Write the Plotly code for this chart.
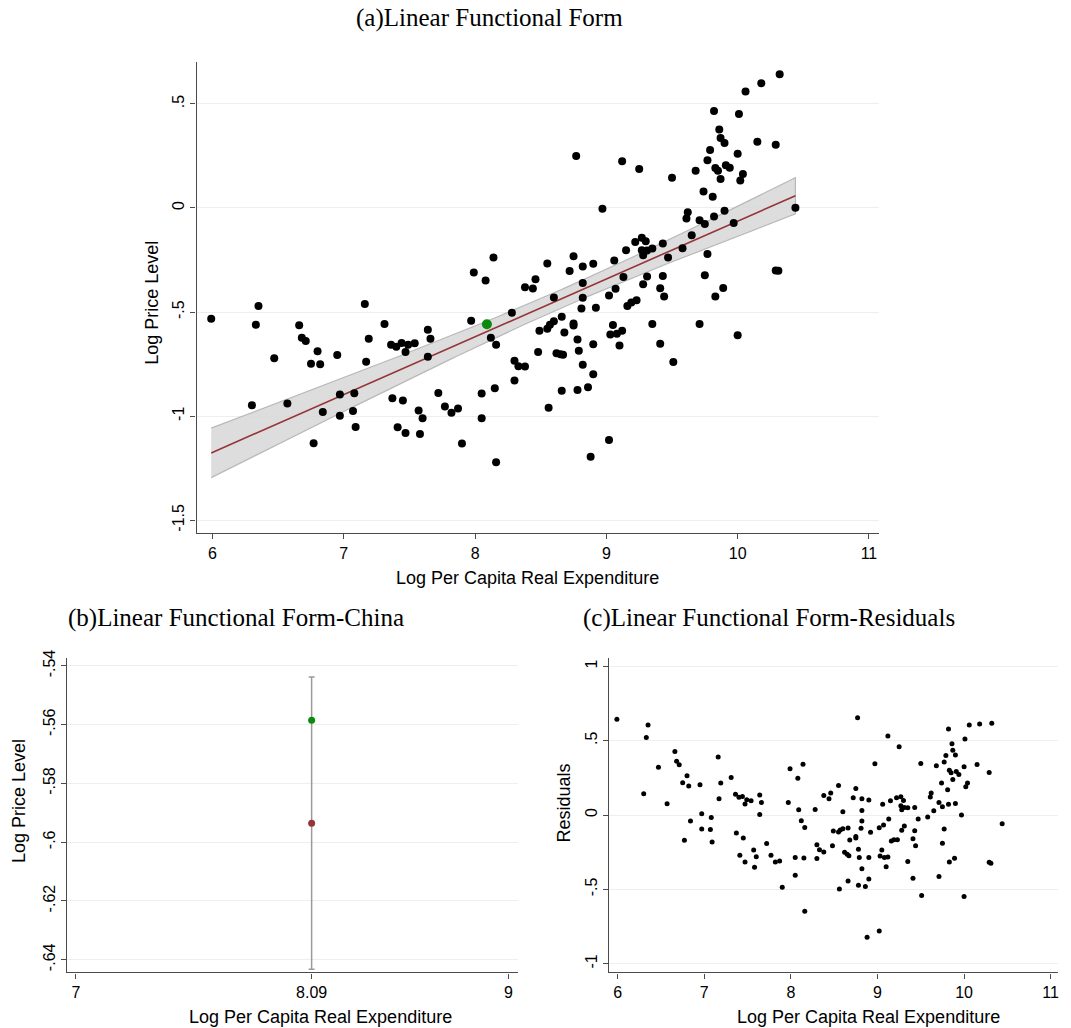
import numpy as np
import plotly.graph_objects as go

# Log per capita real expenditure and OLS residuals, one entry per country
log_exp = [
    5.99, 6.30, 6.33, 6.35, 6.47, 6.57, 6.66, 6.68, 6.71, 6.75,
    6.77, 6.80, 6.82, 6.84, 6.95, 6.97, 6.97, 7.07, 7.08, 7.09,
    7.16, 7.17, 7.19, 7.31, 7.36, 7.37, 7.40, 7.41, 7.44, 7.45,
    7.47, 7.47, 7.49, 7.54, 7.57, 7.58, 7.60, 7.64, 7.64, 7.66,
    7.72, 7.77, 7.82, 7.87, 7.90, 7.97, 7.99, 8.05, 8.05, 8.08,
    8.12, 8.14, 8.15, 8.16, 8.16, 8.28, 8.30, 8.30, 8.33, 8.38,
    8.38, 8.44, 8.46, 8.48, 8.49, 8.55, 8.55, 8.56, 8.57, 8.60,
    8.60, 8.62, 8.65, 8.66, 8.66, 8.67, 8.68, 8.72, 8.75, 8.75,
    8.75, 8.77, 8.78, 8.78, 8.79, 8.81, 8.82, 8.82, 8.82, 8.82,
    8.86, 8.88, 8.90, 8.90, 8.90, 8.92, 8.97, 9.02, 9.02, 9.03,
    9.05, 9.06, 9.07, 9.08, 9.10, 9.12, 9.12, 9.13, 9.15, 9.16,
    9.19, 9.22, 9.23, 9.25, 9.27, 9.27, 9.28, 9.28, 9.30, 9.31,
    9.31, 9.35, 9.35, 9.41, 9.41, 9.43, 9.43, 9.44, 9.47, 9.50,
    9.51, 9.58, 9.61, 9.62, 9.65, 9.68, 9.71, 9.71, 9.74, 9.75,
    9.75, 9.77, 9.77, 9.79, 9.81, 9.82, 9.82, 9.83, 9.83, 9.85,
    9.86, 9.87, 9.87, 9.89, 9.90, 9.90, 9.91, 9.94, 9.97, 10.00,
    10.01, 10.00, 10.02, 10.04, 10.06, 10.15, 10.18, 10.29, 10.29, 10.31,
    10.32, 10.44,
]
residual = [
    0.644, 0.143, 0.521, 0.606, 0.322, 0.076, 0.427, 0.362, 0.338, 0.217,
    -0.170, 0.264, 0.195, -0.040, 0.204, 0.009, -0.094, -0.098, -0.016, -0.181,
    0.391, 0.110, 0.215, 0.253, 0.139, -0.121, 0.119, -0.271, 0.125, -0.154,
    -0.315, 0.074, 0.103, 0.096, -0.235, -0.351, -0.280, 0.004, 0.134, 0.085,
    -0.192, -0.271, -0.315, -0.309, -0.485, 0.085, 0.311, -0.286, -0.405, 0.248,
    -0.038, 0.342, -0.289, -0.083, -0.647, 0.038, -0.199, -0.293, -0.233, 0.132,
    -0.248, 0.110, 0.148, -0.206, -0.107, 0.199, -0.114, -0.497, -0.101, 0.022,
    -0.092, -0.251, -0.264, -0.087, -0.443, -0.273, -0.168, 0.116, -0.145, 0.179,
    -0.154, 0.655, -0.230, -0.472, -0.286, -0.089, 0.110, -0.040, 0.031, -0.362,
    -0.481, -0.821, -0.286, -0.430, 0.101, -0.116, 0.345, -0.779, -0.085, -0.275,
    -0.235, 0.072, -0.067, -0.286, -0.347, 0.532, -0.282, -0.027, 0.096, -0.174,
    -0.166, 0.116, -0.166, 0.459, 0.123, 0.063, -0.103, 0.036, 0.098, 0.051,
    -0.074, 0.049, -0.313, -0.159, -0.425, 0.051, -0.105, -0.206, -0.027, 0.347,
    -0.541, -0.013, 0.121, 0.148, 0.029, 0.331, -0.414, 0.085, 0.215, 0.056,
    -0.190, 0.356, -0.094, 0.400, 0.170, 0.579, 0.072, -0.315, 0.302, 0.284,
    0.479, 0.239, 0.436, -0.291, 0.403, 0.078, 0.293, 0.273, 0.000, 0.324,
    0.512, -0.548, 0.190, 0.215, 0.606, 0.340, 0.613, 0.286, -0.318, -0.324,
    0.617, -0.058,
]

# China
china_exp = 8.09
china_resid = 0.035

# Fitted linear relation: log price level = b0 + b1 * log expenditure
b0 = -2.8393
b1 = 0.2776
t_crit = 1.974  # 95% two-sided, n - 2 degrees of freedom

a_ticks = [-1.5, -1, -0.5, 0, 0.5]
a_ticklabels = ["-1.5", "-1", "-.5", "0", ".5"]
exp_ticks = [6, 7, 8, 9, 10, 11]
b_yticks = [-0.64, -0.62, -0.60, -0.58, -0.56, -0.54]
b_yticklabels = ["-.64", "-.62", "-.6", "-.58", "-.56", "-.54"]
b_xticks = [7, 8.09, 9]
c_yticks = [-1, -0.5, 0, 0.5, 1]
c_yticklabels = ["-1", "-.5", "0", ".5", "1"]

x = np.array(log_exp + [china_exp])
r = np.array(residual + [china_resid])
fitted = b0 + b1 * x
price = fitted + r

n = len(x)
s = np.sqrt(np.sum(r ** 2) / (n - 2))
xbar = x.mean()
sxx = np.sum((x - xbar) ** 2)


def half_width(xv):
    return t_crit * s * np.sqrt(1.0 / n + (xv - xbar) ** 2 / sxx)


grid_x = np.linspace(x.min(), x.max(), 120)
grid_fit = b0 + b1 * grid_x
grid_hw = half_width(grid_x)

china_fit = b0 + b1 * china_exp
china_price = china_fit + china_resid
china_hw = float(half_width(china_exp))

W, H = 1071, 1028
# the page places the figure slightly lower than its nominal frame
Y_OFFSET, Y_SCALE = 9.16, 0.991
FIT_RED = "#953539"
GREEN = "#0b8a0b"
SANS = "Liberation Sans, Arial, sans-serif"
SERIF = "Liberation Serif, Times New Roman, serif"
GRID = "#e8f0f2"
AXIS = "#4a4a4a"

fig = go.Figure()

# (a) confidence band, fitted line, scatter
fig.add_trace(go.Scatter(
    x=np.concatenate([grid_x, grid_x[::-1]]),
    y=np.concatenate([grid_fit + grid_hw, (grid_fit - grid_hw)[::-1]]),
    fill="toself", fillcolor="rgba(215,215,215,0.85)",
    line=dict(color="#b8b8b8", width=1.2),
    mode="lines", hoverinfo="skip", showlegend=False,
    xaxis="x", yaxis="y",
))
fig.add_trace(go.Scatter(
    x=grid_x, y=grid_fit, mode="lines",
    line=dict(color=FIT_RED, width=1.6),
    showlegend=False, xaxis="x", yaxis="y",
))
fig.add_trace(go.Scatter(
    x=x, y=price, mode="markers",
    marker=dict(color="black", size=8),
    showlegend=False, xaxis="x", yaxis="y",
))
fig.add_trace(go.Scatter(
    x=[china_exp], y=[china_price], mode="markers",
    marker=dict(color=GREEN, size=10),
    showlegend=False, xaxis="x", yaxis="y",
))

# (b) China: fitted value with its interval, and observed value
fig.add_trace(go.Scatter(
    x=[china_exp], y=[china_fit], mode="markers",
    marker=dict(color=FIT_RED, size=7),
    error_y=dict(type="data", array=[china_hw], arrayminus=[china_hw],
                 color="#9a9a9a", thickness=1.5, width=3),
    showlegend=False, xaxis="x2", yaxis="y2",
))
fig.add_trace(go.Scatter(
    x=[china_exp], y=[china_price], mode="markers",
    marker=dict(color=GREEN, size=7),
    showlegend=False, xaxis="x2", yaxis="y2",
))

# (c) residuals
fig.add_trace(go.Scatter(
    x=x, y=r, mode="markers",
    marker=dict(color="black", size=5),
    showlegend=False, xaxis="x3", yaxis="y3",
))


def px_x(p):
    return p / W


def px_y(p):
    return 1 - ((p - Y_OFFSET) / Y_SCALE) / H


axis_common = dict(
    showline=True, linecolor=AXIS, linewidth=1.3,
    ticks="outside", ticklen=5, tickcolor=AXIS, tickwidth=1.2,
    tickfont=dict(family=SANS, size=16, color="black"),
    zeroline=False,
)

fig.update_layout(
    width=W, height=H,
    margin=dict(l=0, r=0, t=0, b=0),
    paper_bgcolor="white", plot_bgcolor="white",
    xaxis=dict(domain=[px_x(196.7), px_x(880)], range=[5.878, 11.078],
               tickvals=exp_ticks, showgrid=False, anchor="y", **axis_common),
    yaxis=dict(domain=[px_y(533.3), px_y(62)], range=[-1.5625, 0.702],
               tickvals=a_ticks, ticktext=a_ticklabels, tickangle=-90,
               showgrid=True, gridcolor=GRID, gridwidth=1, anchor="x",
               **axis_common),
    xaxis2=dict(domain=[px_x(67.3), px_x(518)], range=[6.96, 9.042],
                tickvals=b_xticks, ticktext=["7", "8.09", "9"],
                showgrid=False, anchor="y2", **axis_common),
    yaxis2=dict(domain=[px_y(972.3), px_y(658.3)], range=[-0.6443, -0.5374],
                tickvals=b_yticks, ticktext=b_yticklabels, tickangle=-90,
                showgrid=True, gridcolor=GRID, gridwidth=1, anchor="x2",
                **axis_common),
    xaxis3=dict(domain=[px_x(610), px_x(1059)], range=[5.904, 11.085],
                tickvals=exp_ticks, showgrid=False, anchor="y3", **axis_common),
    yaxis3=dict(domain=[px_y(972.3), px_y(658.3)], range=[-1.058, 1.054],
                tickvals=c_yticks, ticktext=c_yticklabels, tickangle=-90,
                showgrid=True, gridcolor=GRID, gridwidth=1, anchor="x3",
                **axis_common),
)


def label(text, px, py, size, family, angle=0, xanchor="center"):
    fig.add_annotation(
        text=text, x=px_x(px), y=px_y(py), xref="paper", yref="paper",
        xanchor=xanchor, yanchor="middle", textangle=angle, showarrow=False,
        font=dict(family=family, size=size, color="black"),
    )


label("(a)Linear Functional Form", 490, 18, 25, SERIF)
label("(b)Linear Functional Form-China", 66, 618, 25, SERIF, xanchor="left")
label("(c)Linear Functional Form-Residuals", 582, 618, 25, SERIF, xanchor="left")

label("Log Price Level", 152, 303, 18, SANS, angle=-90)
label("Log Per Capita Real Expenditure", 528, 578, 18, SANS)
label("Log Price Level", 19, 801, 18, SANS, angle=-90)
label("Log Per Capita Real Expenditure", 321, 1017, 18, SANS)
label("Residuals", 565, 803, 18, SANS, angle=-90)
label("Log Per Capita Real Expenditure", 869, 1017, 18, SANS)

fig.write_html("out.html")
